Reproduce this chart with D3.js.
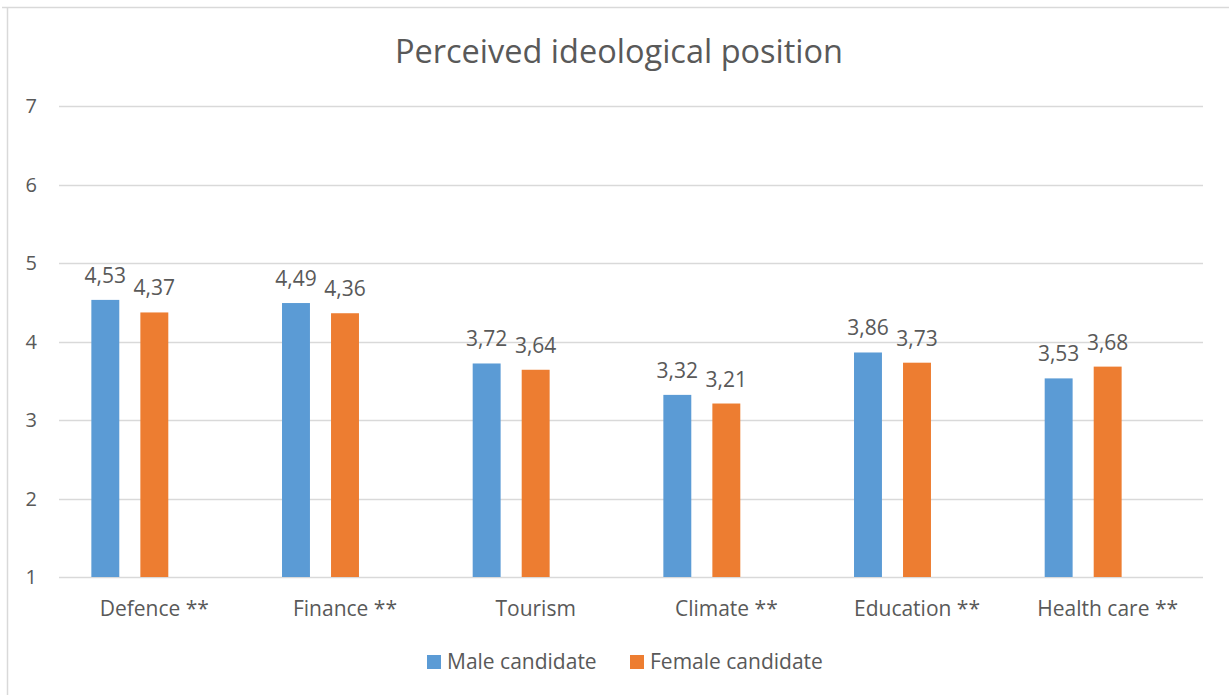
<!DOCTYPE html>
<html>
<head>
<meta charset="utf-8">
<script src="https://cdn.jsdelivr.net/npm/d3@7"></script>
<style>
  body { margin: 0; background: #fff; }
  text { font-family: "Open Sans", "Noto Sans", sans-serif; fill: #595959; }
</style>
</head>
<body>
<div id="chart"></div>
<script>
// Chart data
const categories = ["Defence **", "Finance **", "Tourism", "Climate **", "Education **", "Health care **"];
const maleValues = [4.53, 4.49, 3.72, 3.32, 3.86, 3.53];
const femaleValues = [4.37, 4.36, 3.64, 3.21, 3.73, 3.68];
const seriesNames = ["Male candidate", "Female candidate"];
const seriesColors = ["#5b9bd5", "#ed7d31"];
const yTicks = [1, 2, 3, 4, 5, 6, 7];

const width = 1229;
const height = 695;

const svg = d3.select("#chart")
    .append("svg")
    .attr("width", width)
    .attr("height", height);

// outer frame (cropped on right and bottom)
svg.append("path")
    .attr("d", `M2,7.5 H${width} M7.5,7 V${height}`)
    .attr("stroke", "#d9d9d9")
    .attr("stroke-width", 1.5)
    .attr("fill", "none");

svg.append("text")
    .attr("x", 619)
    .attr("y", 63)
    .attr("text-anchor", "middle")
    .style("font-size", "32.5px")
    .text("Perceived ideological position");

const plot = { left: 59, right: 1203, top: 106, bottom: 577 };

const x = d3.scaleBand()
    .domain(categories)
    .range([plot.left, plot.right]);

// three slots per category like the original (third slot left empty)
const xSlot = d3.scaleBand()
    .domain([0, 1, 2])
    .range([0, x.bandwidth()])
    .paddingInner(0.43)
    .paddingOuter(0.66);

const y = d3.scaleLinear()
    .domain([1, 7])
    .range([plot.bottom, plot.top]);

// gridlines
svg.append("g")
    .selectAll("line")
    .data(yTicks)
    .enter().append("line")
    .attr("x1", plot.left)
    .attr("x2", plot.right)
    .attr("y1", d => Math.round(y(d)) + 0.5)
    .attr("y2", d => Math.round(y(d)) + 0.5)
    .attr("stroke", "#d9d9d9")
    .attr("stroke-width", 1.5);

// y axis labels
svg.append("g")
    .selectAll("text")
    .data(yTicks)
    .enter().append("text")
    .attr("x", 37)
    .attr("y", d => y(d) + 7)
    .attr("text-anchor", "end")
    .style("font-size", "20px")
    .text(d => d);

const series = [maleValues, femaleValues];

series.forEach((values, si) => {
    const g = svg.append("g");
    g.selectAll("rect")
        .data(values)
        .enter().append("rect")
        .attr("x", (d, i) => x(categories[i]) + xSlot(si))
        .attr("y", d => y(d))
        .attr("width", xSlot.bandwidth())
        .attr("height", d => y(1) - y(d))
        .attr("fill", seriesColors[si]);

    g.selectAll("text")
        .data(values)
        .enter().append("text")
        .attr("x", (d, i) => x(categories[i]) + xSlot(si) + xSlot.bandwidth() / 2)
        .attr("y", d => y(d) - 17)
        .attr("text-anchor", "middle")
        .style("font-size", "21px")
        .text(d => d.toFixed(2).replace(".", ","));
});

// category labels
svg.append("g")
    .selectAll("text")
    .data(categories)
    .enter().append("text")
    .attr("x", d => x(d) + x.bandwidth() / 2)
    .attr("y", 616)
    .attr("text-anchor", "middle")
    .style("font-size", "21px")
    .text(d => d);

// legend
const legendX = [427, 630];
const legend = svg.append("g");
seriesNames.forEach((name, i) => {
    legend.append("rect")
        .attr("x", legendX[i])
        .attr("y", 655)
        .attr("width", 14)
        .attr("height", 14)
        .attr("fill", seriesColors[i]);
    legend.append("text")
        .attr("x", legendX[i] + 20)
        .attr("y", 669)
        .style("font-size", "21px")
        .text(name);
});
</script>
</body>
</html>
